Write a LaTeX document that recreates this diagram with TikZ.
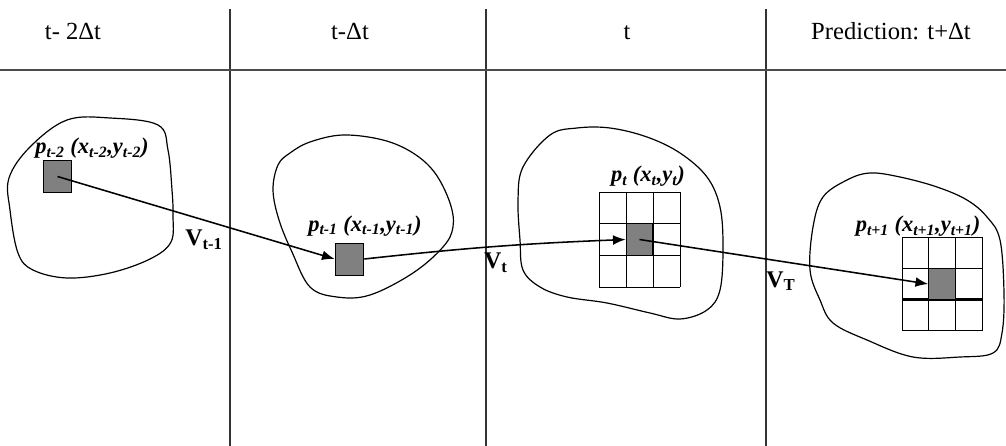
\documentclass[tikz,border=0pt]{standalone}
\usepackage{fontspec}
\setmainfont{Liberation Serif}
\usetikzlibrary{arrows.meta,positioning}

\begin{document}
\begin{tikzpicture}[
    x=0.025cm, y=-0.025cm,
    hdr/.style={font=\fontsize{17.5}{20}\selectfont, anchor=base},
    blob/.style={draw, line width=0.85pt},
    sepline/.style={draw=black!80, line width=0.75pt},
    posbox/.style={draw, fill=gray, minimum width=0.72cm, minimum height=0.8cm, inner sep=0pt, line width=0.6pt},
    cellbox/.style={draw, fill=gray, minimum width=0.67cm, minimum height=0.78cm, inner sep=0pt, line width=0.6pt},
    gridln/.style={draw, line width=0.6pt},
    ptlbl/.style={font=\fontsize{16}{18}\selectfont\bfseries\itshape, anchor=base},
    vlbl/.style={font=\fontsize{17}{19}\selectfont\bfseries},
    arr/.style={-{Latex[length=9pt,width=7pt]}, line width=1.1pt},
  ]
  \useasboundingbox (0,0) rectangle (1006,446);

  % Time columns
  \draw[sepline] (230,9) -- (230,446);
  \draw[sepline] (486,9) -- (486,446);
  \draw[sepline] (766,9) -- (766,446);
  \draw[draw=black!70, line width=1.7pt] (0,70) -- (1006,70);

  \node[hdr] (h1) at (73,40) {t- 2Δt};
  \node[hdr] (h2) at (350,40) {t-Δt};
  \node[hdr] (h3) at (627,40) {t};
  \node[hdr] (h4) at (891,40) {Prediction: t+Δt};

  % Regions
  \draw[blob] plot[smooth cycle, tension=0.6] coordinates {
    (30,147) (67,120) (110,118) (158,125) (168,150) (172,190) (173,215)
    (171,242) (150,259) (110,273) (67,278) (33,270) (18,253) (10,210) (9,178)};
  \draw[blob] plot[smooth cycle, tension=0.6] coordinates {
    (290,153) (310,142) (343,135) (383,140) (413,153) (435,173) (450,203)
    (453,227) (443,247) (413,273) (370,295) (337,297) (310,287) (292,252)
    (279,220) (273,190) (278,165)};
  \draw[blob] plot[smooth cycle, tension=0.6] coordinates {
    (550,135) (577,128) (610,128) (647,137) (680,153) (707,177) (720,207)
    (723,247) (720,290) (707,310) (680,319) (650,313) (607,303) (567,297)
    (540,287) (523,270) (520,240) (518,200) (523,167)};
  \draw[blob] plot[smooth cycle, tension=0.6] coordinates {
    (813,227) (823,197) (847,180) (870,173) (900,177) (937,187) (967,200)
    (987,217) (1000,240) (1004,293) (1002,333) (993,353) (960,357)
    (913,357) (867,340) (833,323) (820,300) (810,270)};

  % Known positions
  \node[posbox] (sqA) at (57.5,176.5) {};
  \node[posbox] (sqB) at (349.5,259) {};
  \node[ptlbl] (lblA) at (92,154) {p\textsubscript{t-2} (x\textsubscript{t-2},y\textsubscript{t-2})};
  \node[ptlbl] (lblB) at (365,231) {p\textsubscript{t-1} (x\textsubscript{t-1},y\textsubscript{t-1})};

  % Search grid at t
  \foreach \i in {0,...,3} {
    \draw[gridln] (599+27*\i,192) -- (599+27*\i,287);
    \draw[gridln] (599,192+31.67*\i) -- (680,192+31.67*\i);
  }
  \node[cellbox] (cellC) at (639.5,239.5) {};
  \node[ptlbl] (lblC) at (648,182) {p\textsubscript{t} (x\textsubscript{t},y\textsubscript{t})};

  % Search grid at t+dt
  \foreach \i in {0,...,3} {
    \draw[gridln] (902+26.7*\i,237) -- (902+26.7*\i,331);
    \draw[gridln] (902,237+31.3*\i) -- (982,237+31.3*\i);
  }
  \draw[line width=1.6pt] (902,299.6) -- (982,299.6);
  \draw[line width=1pt] (902,268.3) -- (982,268.3);
  \node[cellbox] (cellD) at (942,284) {};
  \node[ptlbl] (lblD) at (918,232) {p\textsubscript{t+1} (x\textsubscript{t+1},y\textsubscript{t+1})};

  % Motion vectors
  \draw[arr] (sqA.center) -- (sqB.west);
  \draw[arr] (sqB.east) to[bend left=2] (cellC.west);
  \draw[arr] (cellC.center) -- (cellD.west);
  \node[vlbl] (vA) at (204,240) {V\textsubscript{t-1}};
  \node[vlbl] (vB) at (496,263) {V\textsubscript{t}};
  \node[vlbl] (vC) at (781,281) {V\textsubscript{T}};
\end{tikzpicture}
\end{document}
